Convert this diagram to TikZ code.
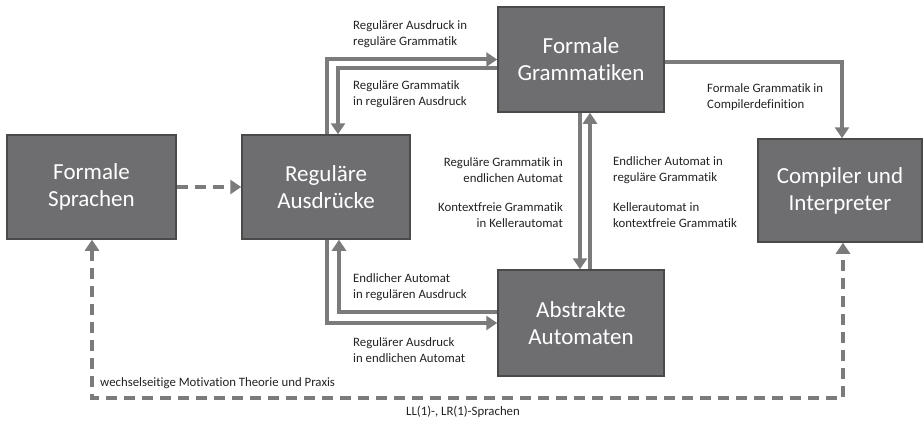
\documentclass[tikz,border=0pt]{standalone}
\usepackage{fontspec}
\setmainfont{Carlito}[Ligatures=NoCommon]
\usetikzlibrary{arrows.meta}
\definecolor{boxfill}{HTML}{6E6E71}
\definecolor{boxline}{HTML}{4A4A4A}
\definecolor{arrcol}{HTML}{7B7B7B}
\definecolor{txt}{HTML}{222222}
\tikzset{
  box/.style={draw=boxline, line width=1.5pt, fill=boxfill, text=white, align=center,
    font=\fontsize{23}{27}\selectfont, inner sep=0pt},
  arr/.style={draw=arrcol, line width=4pt, -{Triangle[length=11pt,width=14pt]}},
  dasharr/.style={draw=arrcol, line width=4pt, dash pattern=on 11pt off 7pt,
    {Triangle[length=11pt,width=14pt]}-{Triangle[length=11pt,width=14pt]}},
  dasharrone/.style={draw=arrcol, line width=4pt, dash pattern=on 11pt off 7pt,
    -{Triangle[length=11pt,width=14pt]}},
  lbl/.style={text=txt, font=\fontsize{12.8}{16}\selectfont, inner sep=0pt},
}
\begin{document}
\begin{tikzpicture}[x=1pt,y=-1pt]
\useasboundingbox (0,0) rectangle (924,428);
\node[box, minimum width=169pt, minimum height=104pt] (fs) at (91.5,187) {Formale\\Sprachen};
\node[box, minimum width=168pt, minimum height=104pt] (ra) at (326,187) {Reguläre\\Ausdrücke};
\node[box, minimum width=166pt, minimum height=105pt] (fg) at (581,59.5) {Formale\\Grammatiken};
\node[box, minimum width=166pt, minimum height=106pt] (aa) at (581,323) {Abstrakte\\Automaten};
\node[box, minimum width=164pt, minimum height=103pt] (ci) at (840,190.5) {Compiler und\\Interpreter};

% dashed arrow
\draw[dasharrone] (fs.east) -- (ra.west);

% top arrows between ra and fg
\draw[arr] ([xshift=1pt]ra.north) |- (fg.west);
\draw[arr] ([yshift=-8.5pt]fg.west) -| ([xshift=12pt]ra.north);

% bottom arrows between aa and ra
\draw[arr] ([yshift=11pt]aa.west) -| ([xshift=13pt]ra.south);
\draw[arr] ([xshift=1pt]ra.south) |- (aa.west);

% vertical arrows between fg and aa
\draw[arr] ([xshift=-1pt]fg.south) -- ([xshift=-1pt]aa.north);
\draw[arr] ([xshift=9pt]aa.north) -- ([xshift=9pt]fg.south);

% fg to ci
\draw[arr] ([yshift=-2.5pt]fg.east) -| ([xshift=2pt]ci.north);

% bottom dashed loop
\coordinate (bl) at (92,398);
\draw[dasharr] ([xshift=0.5pt]fs.south) -- ([xshift=0.5pt]fs.south |- bl) -- ([xshift=3pt]ci.south |- bl) -- ([xshift=3pt]ci.south);

% labels
\node[lbl, anchor=west, align=left] (l1) at (353,34.5) {Regulärer Ausdruck in\\reguläre Grammatik};
\node[lbl, anchor=west, align=left] (l2) at (353,94.5) {Reguläre Grammatik\\in regulären Ausdruck};
\node[lbl, anchor=west, align=left] (l3) at (353,287) {Endlicher Automat\\in regulären Ausdruck};
\node[lbl, anchor=west, align=left] (l4) at (353,350) {Regulärer Ausdruck\\in endlichen Automat};
\node[lbl, anchor=east, align=right] (l5) at (563,170) {Reguläre Grammatik in\\endlichen Automat};
\node[lbl, anchor=east, align=right] (l6) at (563,215) {Kontextfreie Grammatik\\in Kellerautomat};
\node[lbl, anchor=west, align=left] (l7) at (613,170) {Endlicher Automat in\\reguläre Grammatik};
\node[lbl, anchor=west, align=left] (l8) at (613,215) {Kellerautomat in\\kontextfreie Grammatik};
\node[lbl, anchor=west, align=left] (l9) at (707,97) {Formale Grammatik in\\Compilerdefinition};
\node[lbl, anchor=west] (l10) at (100,383) {wechselseitige Motivation Theorie und Praxis};
\node[lbl] (l11) at (463,412) {LL(1)-, LR(1)-Sprachen};
\end{tikzpicture}
\end{document}
